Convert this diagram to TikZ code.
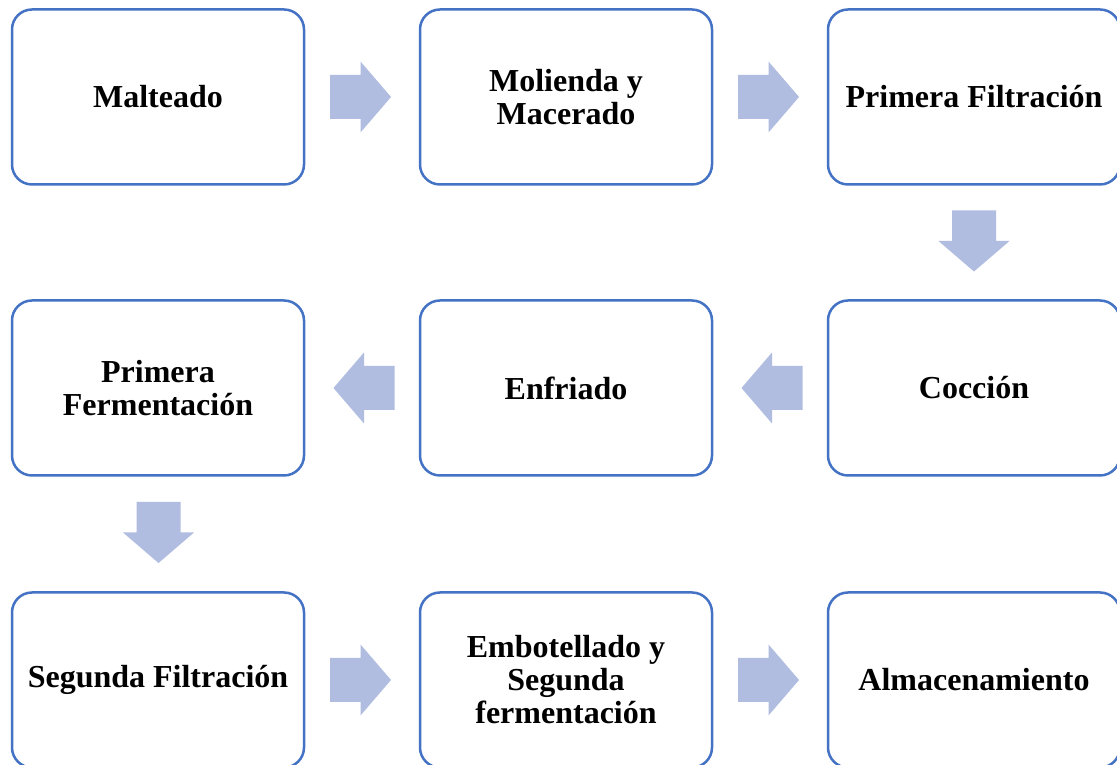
\documentclass[tikz,border=0pt]{standalone}
\usepackage{fontspec}
\setmainfont{Liberation Serif}
\usetikzlibrary{positioning}
\definecolor{boxblue}{RGB}{68,114,196}
\definecolor{arrowfill}{RGB}{176,189,224}
\tikzset{
  stepbox/.style={draw=boxblue,line width=2.5pt,rounded corners=20pt,fill=white,
    minimum width=292pt,minimum height=175pt,align=center,inner sep=0pt,
    font=\fontsize{32}{33}\selectfont\bfseries},
  pics/blockarrow/.style={code={
    \fill[arrowfill] (-30.5,-22) -- (0,-22) -- (0,-35.5) -- (30.5,0)
      -- (0,35.5) -- (0,22) -- (-30.5,22) -- cycle;}}
}
\begin{document}
\begin{tikzpicture}[x=1pt,y=1pt]
\clip (0,0) rectangle (1117,765);
\fill[white] (0,0) rectangle (1117,765);
\node[stepbox] (s1) at (158,668) {Malteado};
\node[stepbox] (s2) at (566,668) {Molienda y\\Macerado};
\node[stepbox] (s3) at (974,668) {Primera Filtraci\'on};
\node[stepbox] (s4) at (974,377) {Cocci\'on};
\node[stepbox] (s5) at (566,377) {Enfriado};
\node[stepbox] (s6) at (158,377) {Primera\\Fermentaci\'on};
\node[stepbox] (s7) at (158,85) {Segunda Filtraci\'on};
\node[stepbox] (s8) at (566,85) {Embotellado y\\Segunda\\fermentaci\'on};
\node[stepbox] (s9) at (974,85) {Almacenamiento};
% block arrows between the steps
\pic at (360.5,668) {blockarrow};
\pic at (768.5,668) {blockarrow};
\pic[rotate=-90] at (974,524) {blockarrow};
\pic[rotate=180] at (772,377) {blockarrow};
\pic[rotate=180] at (364,377) {blockarrow};
\pic[rotate=-90] at (158.5,232.5) {blockarrow};
\pic at (360.5,85) {blockarrow};
\pic at (768.5,85) {blockarrow};
\end{tikzpicture}
\end{document}
